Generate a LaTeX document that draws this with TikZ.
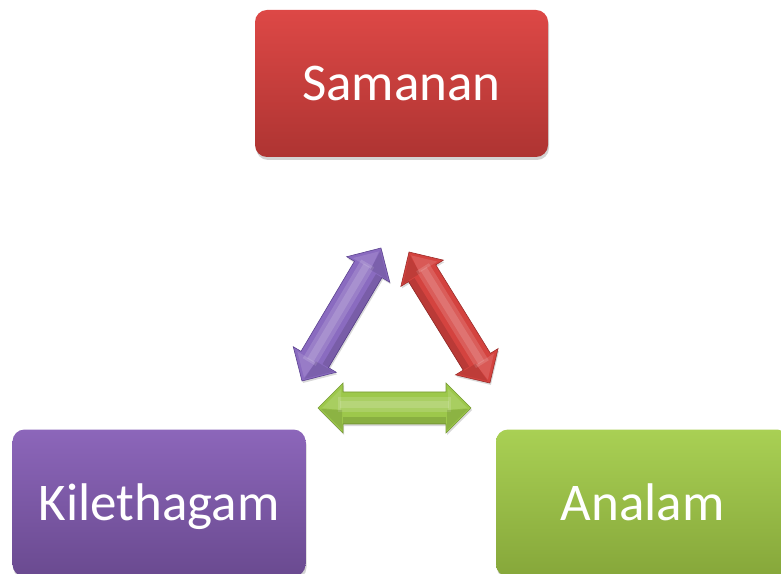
\documentclass[tikz,border=0pt]{standalone}
\usepackage{fontspec}
\setmainfont{Carlito}
\usetikzlibrary{shadows,calc}
\definecolor{redT}{HTML}{DD4846}
\definecolor{redB}{HTML}{AE3432}
\definecolor{purT}{HTML}{8C66BA}
\definecolor{purB}{HTML}{6A4A90}
\definecolor{grnT}{HTML}{A9D054}
\definecolor{grnB}{HTML}{86A73A}
\definecolor{redA}{HTML}{D4433F}
\definecolor{redD}{HTML}{9C2D2B}
\definecolor{purA}{HTML}{8A6BC0}
\definecolor{purD}{HTML}{5C4390}
\definecolor{grnA}{HTML}{9DC84B}
\definecolor{grnD}{HTML}{779A34}
% x, y, angle, length, base colour, dark colour
\newcommand\dblarr[6]{%
\begin{scope}[shift={(#1,#2)}, rotate=#3]
 \fill[#5, draw=#6, line width=0.6pt, drop shadow={opacity=0.3, shadow xshift=1pt, shadow yshift=-2pt}]
  (0,0) -- (25,25) -- (25,16) -- (#4-25,16) -- (#4-25,25) -- (#4,0)
  -- (#4-25,-25) -- (#4-25,-16) -- (25,-16) -- (25,-25) -- cycle;
 \fill[white, opacity=0.14] (20,-4) -- (#4-20,-4) -- (#4-20,11) -- (20,11) -- cycle;
 \fill[white, opacity=0.14] (22,0) -- (#4-22,0) -- (#4-22,7) -- (22,7) -- cycle;
 \fill[white, opacity=0.12] (4,0) -- (23,19) -- (23,-2) -- cycle;
 \fill[white, opacity=0.12] (#4-4,0) -- (#4-23,19) -- (#4-23,-2) -- cycle;
 \fill[black, opacity=0.12] (25,-16) -- (#4-25,-16) -- (#4-25,-9) -- (25,-9) -- cycle;
 \fill[black, opacity=0.1] (3,-1) -- (24,-22) -- (24,-2) -- cycle;
 \fill[black, opacity=0.1] (#4-3,-1) -- (#4-24,-22) -- (#4-24,-2) -- cycle;
\end{scope}}
\begin{document}
\begin{tikzpicture}[x=1pt,y=1pt,
 box/.style={rounded corners=12pt, minimum width=293pt, minimum height=147pt,
   text=white, font=\fontsize{53}{60}\selectfont, inner sep=0pt,
   text height=34pt, text depth=0pt,
   drop shadow={opacity=0.35, shadow xshift=1pt, shadow yshift=-3pt}}]
\useasboundingbox (0,0) rectangle (781,573);
\clip (0,0) rectangle (781,573);
\node[box, top color=redT, bottom color=redB] (sam) at (401.5,489.5) {Samanan};
\node[box, top color=purT, bottom color=purB] (kil) at (159,70) {Kilethagam};
\node[box, top color=grnT, bottom color=grnB] (ana) at (642.5,70) {Analam};
\dblarr{302}{192}{59.3}{154.7}{purA}{purD}
\dblarr{409}{321}{-58.3}{154}{redA}{redD}
\dblarr{318}{165}{0}{153}{grnA}{grnD}
\end{tikzpicture}
\end{document}
